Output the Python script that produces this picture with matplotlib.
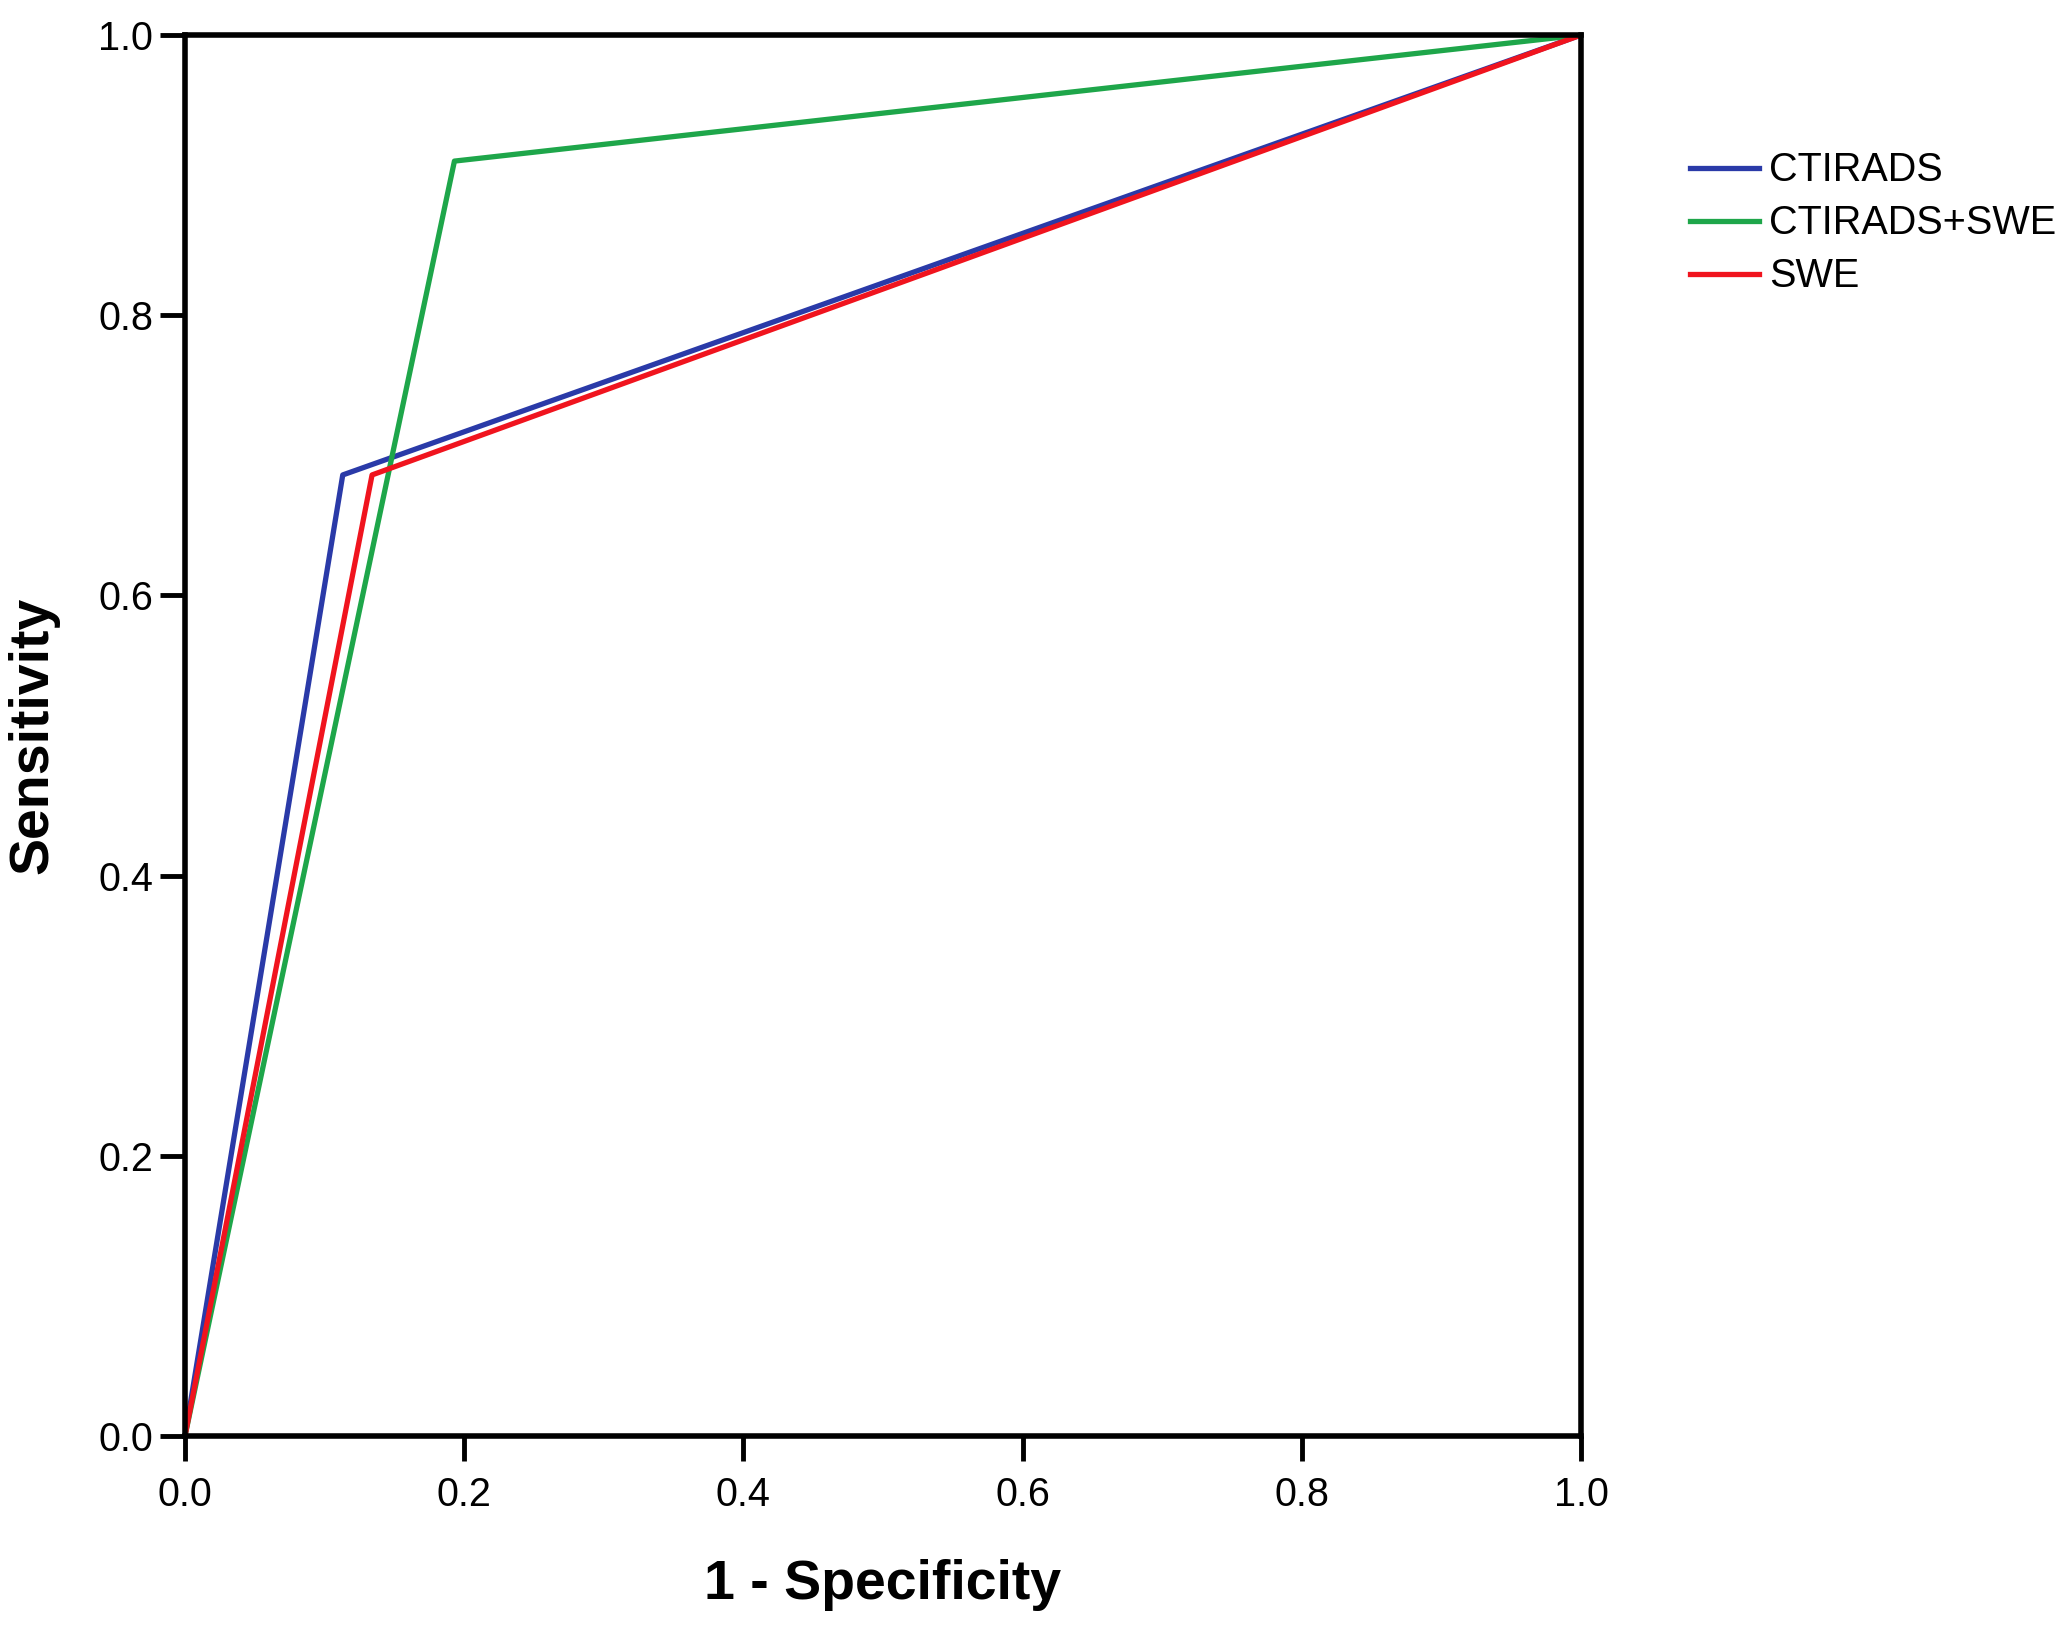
"""ROC curves: CTIRADS, CTIRADS+SWE, SWE"""
import matplotlib
matplotlib.use('Agg')
import matplotlib.pyplot as plt

plt.rcParams['font.family'] = ['Liberation Sans', 'DejaVu Sans']

# ROC points (1 - specificity, sensitivity)
series_names = ['CTIRADS', 'CTIRADS+SWE', 'SWE']
fpr_ctirads = [0.0, 0.113, 1.0]
tpr_ctirads = [0.0, 0.686, 1.0]
fpr_combined = [0.0, 0.193, 1.0]
tpr_combined = [0.0, 0.910, 1.0]
fpr_swe = [0.0, 0.134, 1.0]
tpr_swe = [0.0, 0.686, 1.0]
ticks = [0.0, 0.2, 0.4, 0.6, 0.8, 1.0]
tick_labels = ['0.0', '0.2', '0.4', '0.6', '0.8', '1.0']

fig = plt.figure(figsize=(20.67, 16.28), dpi=100)
ax = fig.add_axes([0.0895, 0.1179, 0.6754, 0.8606])

# 线条
ax.plot(fpr_ctirads, tpr_ctirads, color='#2a3aa8', lw=3.8, label=series_names[0])
ax.plot(fpr_combined, tpr_combined, color='#1ea64a', lw=3.8, label=series_names[1])
ax.plot(fpr_swe, tpr_swe, color='#f0141e', lw=3.8, label=series_names[2])

ax.set_xlim((0, 1))
ax.set_ylim((0, 1))
ax.set_xticks(ticks)
ax.set_xticklabels(tick_labels)
ax.set_yticks(ticks)
ax.set_yticklabels(tick_labels)

for s in ax.spines.values():
    s.set_linewidth(4)
ax.tick_params(axis='both', direction='out', length=18, width=3.5, labelsize=28.5)
ax.tick_params(axis='x', pad=11)
ax.tick_params(axis='y', pad=5)

ax.set_xlabel('1 - Specificity', fontsize=40, fontweight='bold', labelpad=32)
ax.set_ylabel('Sensitivity', fontsize=40, fontweight='bold', labelpad=28)

# 图例
fig.legend(loc='upper left', bbox_to_anchor=(0.8176, 0.907), frameon=False,
           fontsize=28.5, handlelength=1.75, handletextpad=0.25, labelspacing=0.38,
           borderpad=0, borderaxespad=0)

fig.savefig('out.png', dpi=100)
